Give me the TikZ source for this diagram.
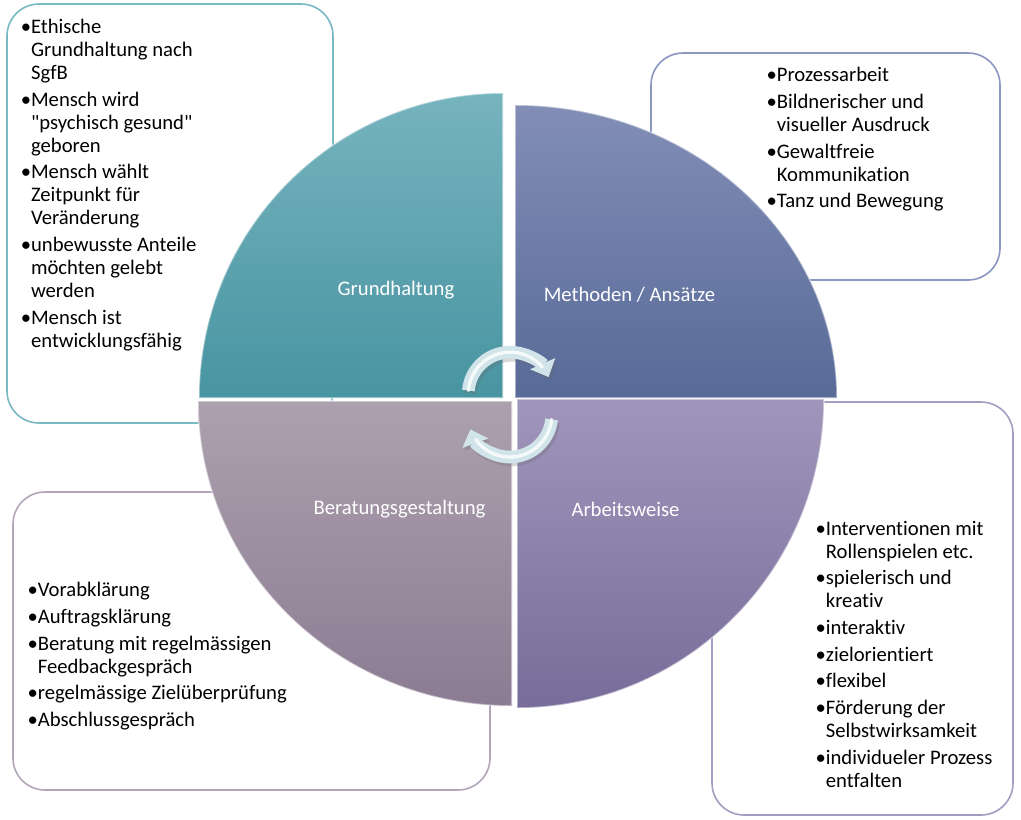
\documentclass[tikz,border=0pt]{standalone}
\usepackage{fontspec}
\setmainfont{Carlito}[Ligatures={TeXOff,NoCommon}]
\usetikzlibrary{arrows.meta,fit}
\newcommand{\fsz}{\fontsize{15.5pt}{17.25pt}\selectfont}
\definecolor{tlc}{RGB}{120,185,196}
\definecolor{trc}{RGB}{140,150,195}
\definecolor{brc}{RGB}{165,156,196}
\definecolor{blc}{RGB}{180,166,186}
\definecolor{tlt}{RGB}{118,180,190}
\definecolor{tlb}{RGB}{72,148,161}
\definecolor{trt}{RGB}{130,142,182}
\definecolor{trb}{RGB}{88,106,152}
\definecolor{blt}{RGB}{172,160,174}
\definecolor{blb}{RGB}{140,124,147}
\definecolor{brt}{RGB}{160,150,187}
\definecolor{brb}{RGB}{120,108,154}
\definecolor{arrowc}{RGB}{208,228,233}
\begin{document}
\begin{tikzpicture}[x=0.75pt,y=-0.75pt,
  box/.style={draw, line width=1.2pt, fill=white, rounded corners=24pt, inner sep=0pt},
  lst/.style={anchor=base west, inner sep=0pt, font=\fsz, text=black},
  qlab/.style={anchor=base, inner sep=0pt, font=\fsz, text=white},
  quad/.style={draw=white, draw opacity=0.45, line width=1.2pt},
  cyc/.style={line width=9.5pt, draw=arrowc, -{Triangle[width=20pt,length=11pt]}},
  cycsh/.style={line width=9.5pt, draw=black!60, opacity=0.25, -{Triangle[width=20pt,length=11pt]}},
  hil/.style={line width=2.5pt, draw=white, draw opacity=0.8, line cap=round},
]
\useasboundingbox (0,0) rectangle (1021,819);
\fill[white] (0,0) rectangle (1021,819);

% text boxes
\node[box, draw=tlc, fit={(7,4) (333,423)}] (tlbox) {};
\node[box, draw=trc, fit={(651,53) (1000,280)}] (trbox) {};
\node[box, draw=brc, fit={(712,402) (1013,815)}] (brbox) {};
\node[box, draw=blc, fit={(13,492) (490,790)}] (blbox) {};

% quadrants
\path[quad, top color=tlt, bottom color=tlb] (503,398) -- (199,398) arc[start angle=180, end angle=270, x radius=304, y radius=305] -- cycle;
\path[quad, top color=trt, bottom color=trb] (515,398) -- (515,105) arc[start angle=270, end angle=360, x radius=322, y radius=293] -- cycle;
\path[quad, top color=brt, bottom color=brb] (517,399) -- (824,399) arc[start angle=0, end angle=90, x radius=307, y radius=309] -- cycle;
\path[quad, top color=blt, bottom color=blb] (512,401) -- (512,706) arc[start angle=90, end angle=180, x radius=314, y radius=305] -- cycle;

% quadrant labels
\node[qlab] (lgh) at (396,295) {Grundhaltung};
\node[qlab] (lma) at (629.5,301) {Methoden / Ansätze};
\node[qlab] (lbg) at (399.5,514) {Beratungsgestaltung};
\node[qlab] (law) at (625.5,516.7) {Arbeitsweise};

% cycle arrows
\coordinate (ua) at (468.4,390.5);
\coordinate (la) at (551.6,419.4);
\coordinate (uas) at (470.4,393.5);
\coordinate (las) at (553.6,422.4);
\draw[cycsh] (uas) arc[start angle=-175, end angle=-24, radius=42];
\draw[cycsh] (las) arc[start angle=6, end angle=160, radius=42];
\draw[cyc] (ua) arc[start angle=-175, end angle=-24, radius=42];
\draw[cyc] (la) arc[start angle=6, end angle=160, radius=42];
\draw[hil] (ua) arc[start angle=-175, end angle=-40, radius=42];
\draw[hil] (la) arc[start angle=6, end angle=144, radius=42];

% list texts
\node[lst] (tltext) at (20.5,33.3) {\begin{tabular}[t]{@{}l@{}l@{}}
•&Ethische\\ &Grundhaltung nach\\ &SgfB\\[2.8pt]
•&Mensch wird\\ &"psychisch gesund"\\ &geboren\\[2.8pt]
•&Mensch wählt\\ &Zeitpunkt für\\ &Veränderung\\[2.8pt]
•&unbewusste Anteile\\ &möchten gelebt\\ &werden\\[2.8pt]
•&Mensch ist\\ &entwicklungsfähig
\end{tabular}};
\node[lst] (trtext) at (766.3,81.7) {\begin{tabular}[t]{@{}l@{}l@{}}
•&Prozessarbeit\\[2.8pt]
•&Bildnerischer und\\ &visueller Ausdruck\\[2.8pt]
•&Gewaltfreie\\ &Kommunikation\\[2.8pt]
•&Tanz und Bewegung
\end{tabular}};
\node[lst] (brtext) at (815.3,535) {\begin{tabular}[t]{@{}l@{}l@{}}
•&Interventionen mit\\ &Rollenspielen etc.\\[2.8pt]
•&spielerisch und\\ &kreativ\\[2.8pt]
•&interaktiv\\[2.8pt]
•&zielorientiert\\[2.8pt]
•&flexibel\\[2.8pt]
•&Förderung der\\ &Selbstwirksamkeit\\[2.8pt]
•&individueler Prozess\\ &entfalten
\end{tabular}};
\node[lst] (bltext) at (27.3,596.7) {\begin{tabular}[t]{@{}l@{}l@{}}
•&Vorabklärung\\[2.8pt]
•&Auftragsklärung\\[2.8pt]
•&Beratung mit regelmässigen\\ &Feedbackgespräch\\[2.8pt]
•&regelmässige Zielüberprüfung\\[2.8pt]
•&Abschlussgespräch
\end{tabular}};
\end{tikzpicture}
\end{document}
